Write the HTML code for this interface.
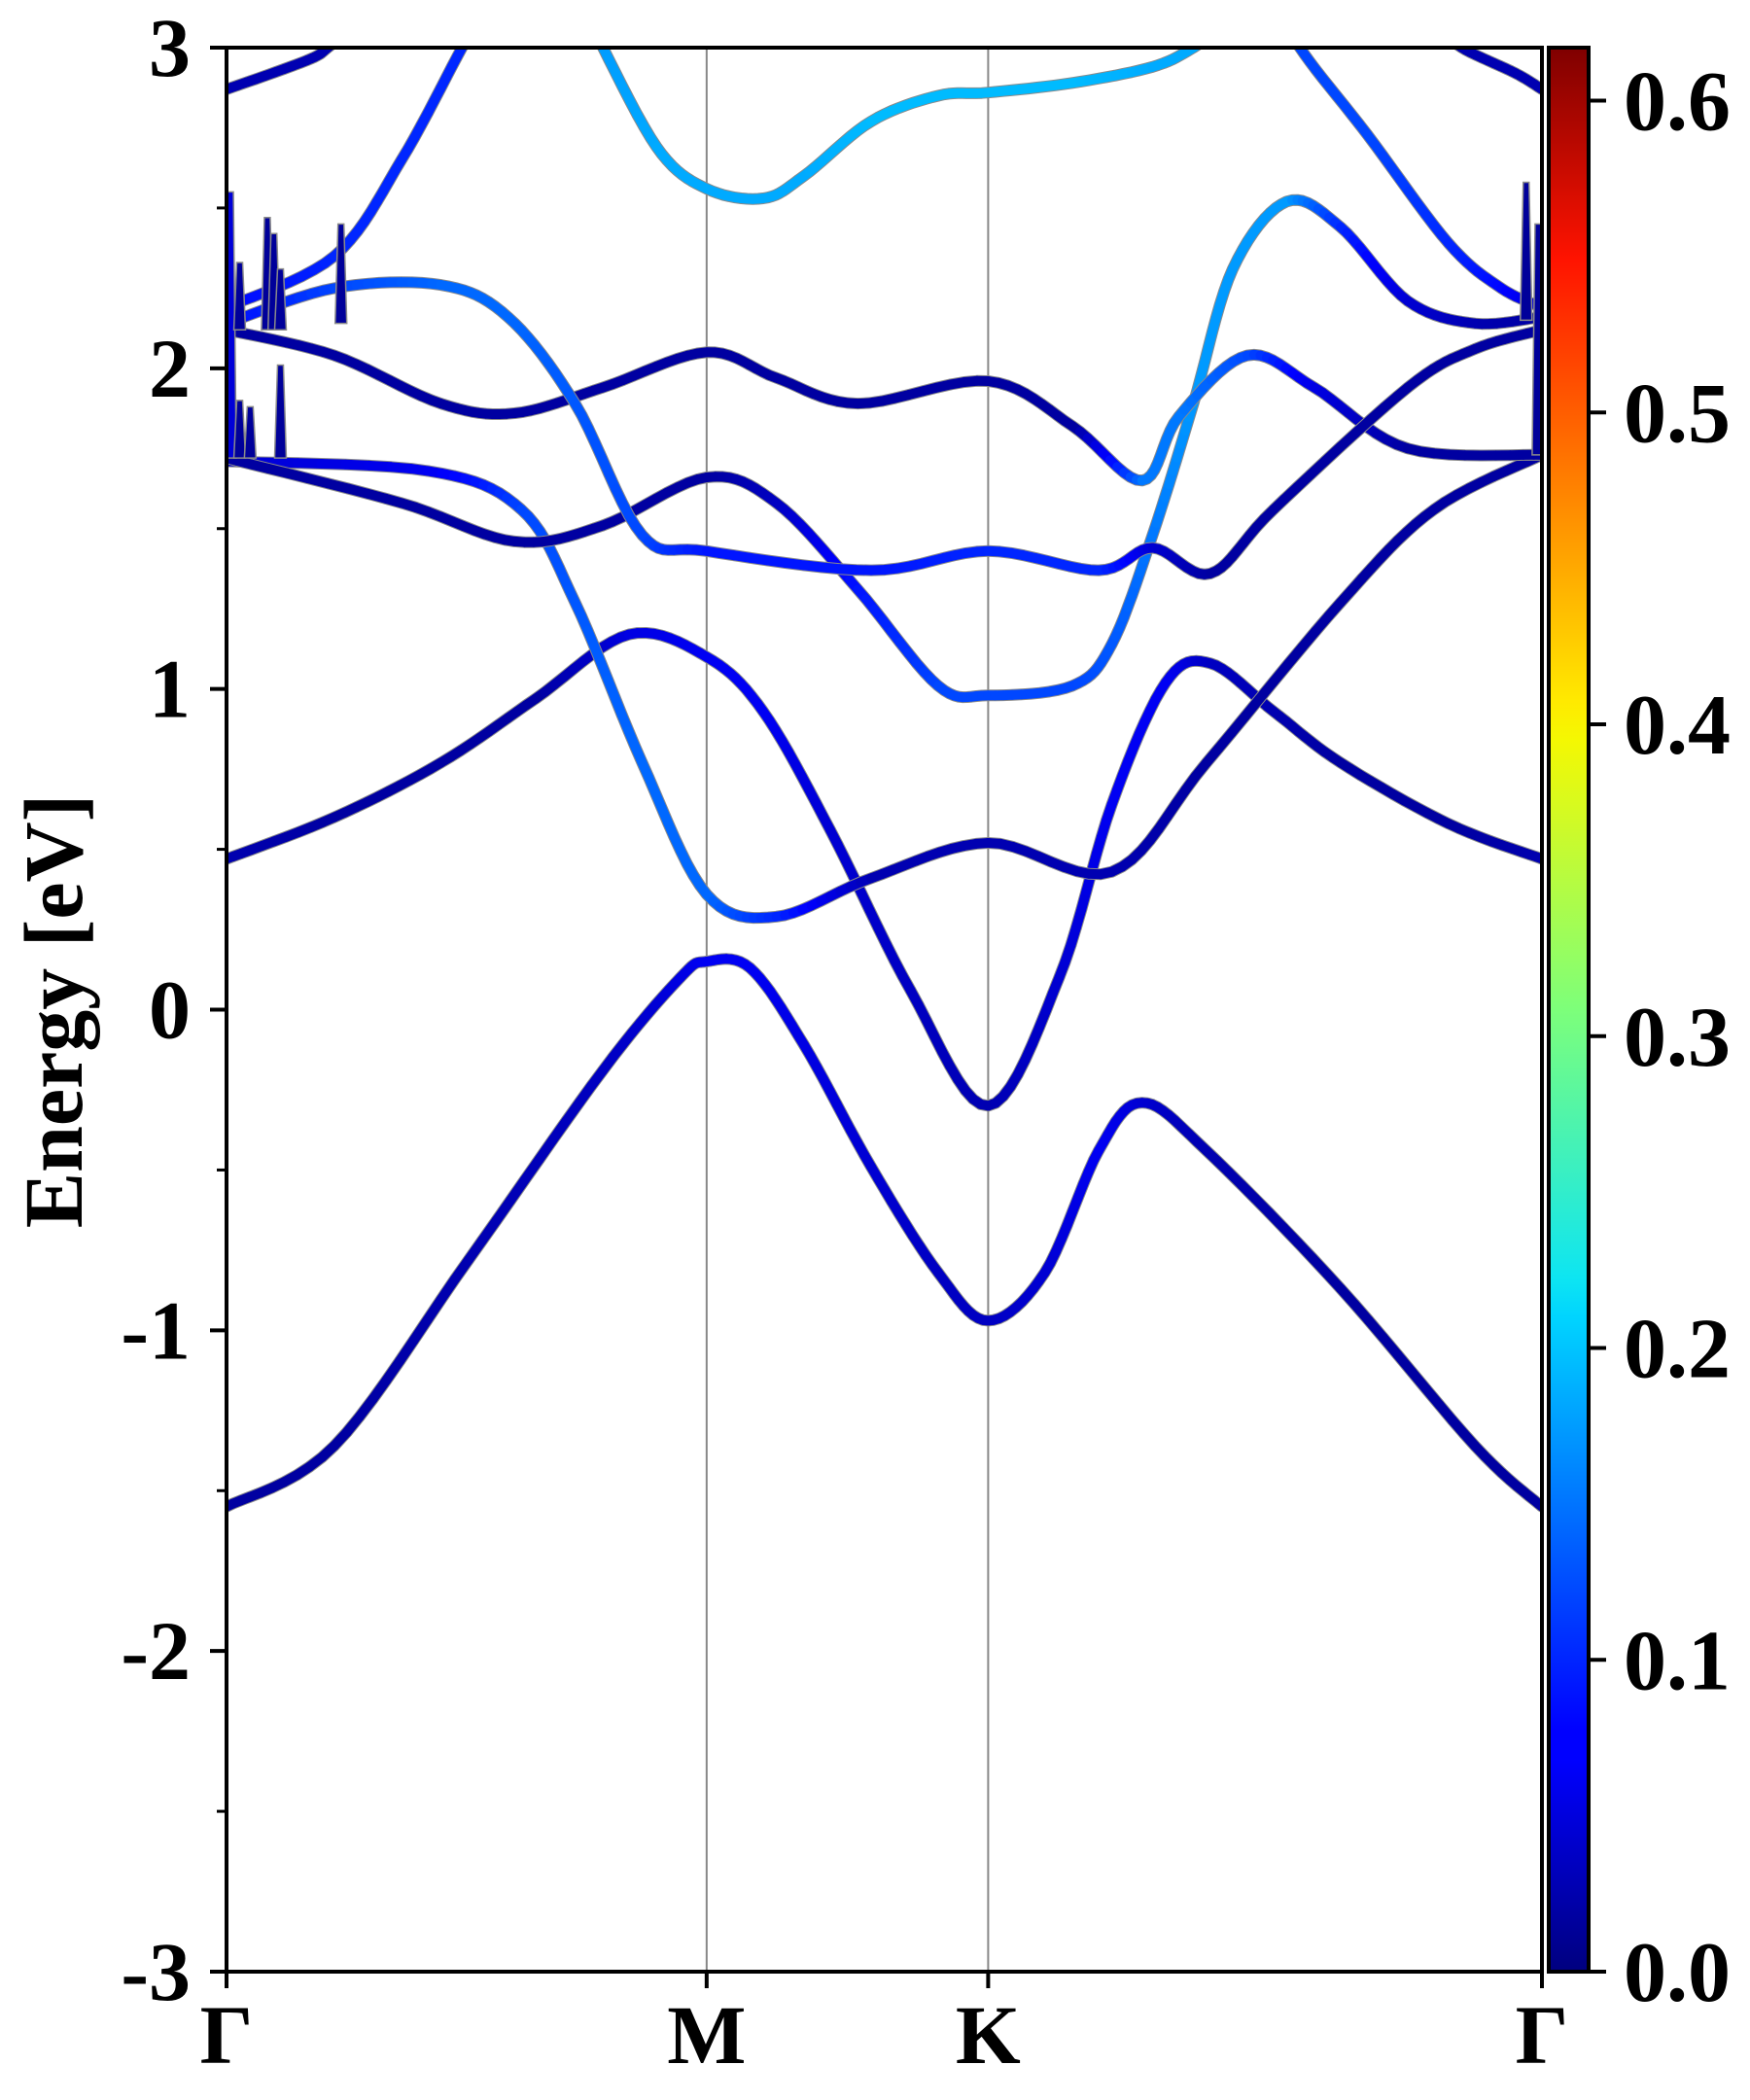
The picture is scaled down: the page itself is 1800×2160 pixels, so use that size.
<!DOCTYPE html>
<html><head><meta charset="utf-8">
<style>
html,body{margin:0;padding:0;background:#fff;}
svg{display:block;font-family:"Liberation Serif",serif;font-weight:bold;}
</style></head>
<body>
<svg id="chart" width="1800" height="2160" viewBox="0 0 1800 2160" xmlns="http://www.w3.org/2000/svg">
<defs>
<clipPath id="plotclip"><rect x="233" y="49" width="1353" height="1979"/></clipPath>
<linearGradient id="jet" x1="0" y1="1" x2="0" y2="0">
<stop offset="0" stop-color="#00007f"/><stop offset="0.11" stop-color="#0000ff"/>
<stop offset="0.125" stop-color="#0000ff"/><stop offset="0.34" stop-color="#00d4ff"/>
<stop offset="0.36" stop-color="#0de5f2"/><stop offset="0.5" stop-color="#7dff7a"/>
<stop offset="0.64" stop-color="#f4f802"/><stop offset="0.66" stop-color="#ffea00"/>
<stop offset="0.89" stop-color="#ff1300"/><stop offset="1" stop-color="#7f0000"/>
</linearGradient>
</defs>
<g id="bands" clip-path="url(#plotclip)"></g>
<g id="axes"></g>
</svg>
<script>
// ---- data ----
const yTicks=[-3,-2,-1,0,1,2,3];
const yTickLabels=["-3","-2","-1","0","1","2","3"];
const kPoints=[0,0.365,0.579,1];
const kLabels=["Γ","M","K","Γ"];
const cbTicks=[0,0.1,0.2,0.3,0.4,0.5,0.6];
const cbTickLabels=["0.0","0.1","0.2","0.3","0.4","0.5","0.6"];
const cbMax=0.617;
const bandA_k=[0,.082,.184,.286,.345,.365,.398,.439,.490,.541,.579,.622,.663,.696,.745,.847,.949,1];
const bandA_E=[-1.55,-1.36,-0.78,-0.19,0.10,0.15,0.13,-0.11,-0.49,-0.82,-0.97,-0.82,-0.44,-0.29,-0.44,-0.87,-1.36,-1.55];
const bandA_w=[.02,.02,.03,.04,.06,.07,.07,.06,.05,.04,.04,.05,.07,.05,.03,.02,.02,.02];
const bandB_k=[0,.082,.163,.235,.306,.365,.408,.459,.520,.579,.633,.673,.714,.748,.796,.847,.929,1];
const bandB_E=[.47,.60,.77,.97,1.17,1.10,.93,.56,.06,-.30,.10,.64,1.02,1.08,.93,.77,.58,.47];
const bandB_w=[.03,.02,.02,.02,.06,.07,.07,.05,.04,.03,.05,.07,.07,.04,.03,.02,.02,.03];
const bandC_k=[0,.153,.224,.265,.316,.365,.418,.490,.579,.673,.745,.847,.918,1];
const bandC_E=[1.71,1.68,1.56,1.27,.77,.36,.29,.41,.52,.43,.77,1.27,1.56,1.73];
const bandC_w=[.05,.07,.12,.13,.14,.14,.10,.03,.03,.03,.02,.02,.02,.02];
const bandD_k=[0,.133,.219,.286,.365,.418,.480,.541,.579,.643,.673,.704,.735,.765,.806,.847,.898,.949,1];
const bandD_E=[1.72,1.58,1.46,1.51,1.66,1.58,1.31,1.01,.98,1.01,1.14,1.48,1.89,2.31,2.52,2.44,2.21,2.14,2.16];
const bandD_w=[.02,.02,.02,.02,.02,.04,.09,.12,.12,.12,.13,.15,.17,.17,.17,.10,.05,.03,.02];
const bandE_k=[0,.082,.163,.219,.286,.365,.418,.480,.579,.643,.696,.724,.776,.827,.898,1];
const bandE_E=[2.12,2.04,1.89,1.86,1.94,2.05,1.97,1.89,1.96,1.82,1.65,1.85,2.04,1.94,1.75,1.73];
const bandE_w=[.02,.02,.02,.02,.02,.02,.02,.02,.02,.02,.15,.15,.12,.06,.02,.02];
const bandF_k=[0,.082,.163,.214,.265,.316,.365,.490,.579,.663,.704,.748,.796,.898,.949,1];
const bandF_E=[2.14,2.25,2.26,2.16,1.89,1.48,1.43,1.37,1.43,1.37,1.44,1.36,1.56,1.94,2.06,2.12];
const bandF_w=[.08,.12,.14,.14,.13,.12,.09,.09,.10,.10,.05,.02,.02,.02,.02,.02];
const bandG1_k=[0,.082,.133,.179,.20];
const bandG1_E=[2.19,2.35,2.65,3.0,3.15];
const bandG1_w=[.08,.10,.10,.10,.10];
const bandG2_k=[.80,.816,.867,.929,.969,1];
const bandG2_E=[3.15,3.0,2.73,2.39,2.25,2.19];
const bandG2_w=[.12,.12,.12,.10,.08,.05];
const bandH_k=[.28,.327,.365,.408,.439,.490,.541,.579,.643,.704,.735,.75];
const bandH_E=[3.05,2.69,2.56,2.53,2.60,2.77,2.85,2.86,2.89,2.94,3.0,3.05];
const bandH_w=[.17,.18,.18,.18,.18,.19,.19,.19,.19,.18,.18,.18];
const bandI1_k=[0,.061,.077,.09];
const bandI1_E=[2.87,2.96,3.0,3.05];
const bandI1_w=[.03,.03,.03,.03];
const bandI2_k=[.93,.939,.98,1];
const bandI2_E=[3.05,3.0,2.92,2.87];
const bandI2_w=[.03,.03,.03,.03];
const spike_k=[.003,.010,.031,.036,.041,.087,.010,.018,.041,.988,.997];
const spike_top=[2.55,2.33,2.47,2.42,2.31,2.45,1.90,1.88,2.01,2.58,2.45];
const spike_base=[1.72,2.12,2.12,2.12,2.12,2.14,1.72,1.72,1.72,2.15,1.73];

// ---- axes ----
const L=233,R=1586,T=49,B=2028;
const X=k=>L+k*(R-L);
const Y=e=>T+(3-e)/6*(B-T);
const NS="http://www.w3.org/2000/svg";
function mk(tag,attrs,parent){const el=document.createElementNS(NS,tag);for(const a in attrs)el.setAttribute(a,attrs[a]);parent.appendChild(el);return el;}
function jet(v){const t=Math.max(0,Math.min(1,v/cbMax));
 const f=x=>Math.max(0,Math.min(1,x));
 const r=f(1.5-Math.abs(4*t-3)),g=f(1.5-Math.abs(4*t-2)),b=f(1.5-Math.abs(4*t-1));
 return `rgb(${Math.round(r*255)},${Math.round(g*255)},${Math.round(b*255)})`;}
const bandsG=document.getElementById('bands');
const axesG=document.getElementById('axes');

[1,2].forEach(i=>{const ln=mk('line',{x1:X(kPoints[i]),x2:X(kPoints[i]),y1:T,y2:B,stroke:'#888','stroke-width':2},bandsG);

});

function cr(p0,p1,p2,p3,t){const t2=t*t,t3=t2*t;return 0.5*((2*p1)+(-p0+p2)*t+(2*p0-5*p1+4*p2-p3)*t2+(-p0+3*p1-3*p2+p3)*t3);}
function drawBand(name,ks,es,ws){
 const pts=[];const n=ks.length;
 for(let i=0;i<n-1;i++){const i0=Math.max(0,i-1),i3=Math.min(n-1,i+2);
  for(let s=0;s<10;s++){const t=s/10;
   pts.push([X(cr(ks[i0],ks[i],ks[i+1],ks[i3],t)),Y(cr(es[i0],es[i],es[i+1],es[i3],t)),ws[i]+(ws[i+1]-ws[i])*t]);}}
 pts.push([X(ks[n-1]),Y(es[n-1]),ws[n-1]]);
 const g=mk('g',{},bandsG);
 
 
 mk('polyline',{points:pts.map(p=>p[0].toFixed(1)+','+p[1].toFixed(1)).join(' '),fill:'none',stroke:'#8a8a8a','stroke-width':12,'stroke-linejoin':'round','stroke-linecap':'round'},g);
 for(let i=0;i<pts.length-1;i++){
  mk('line',{x1:pts[i][0].toFixed(1),y1:pts[i][1].toFixed(1),x2:pts[i+1][0].toFixed(1),y2:pts[i+1][1].toFixed(1),stroke:jet(pts[i][2]),'stroke-width':10,'stroke-linecap':'round'},g);}
}
drawBand('band-a',bandA_k,bandA_E,bandA_w);
drawBand('band-b',bandB_k,bandB_E,bandB_w);
drawBand('band-c',bandC_k,bandC_E,bandC_w);
drawBand('band-d',bandD_k,bandD_E,bandD_w);
drawBand('band-e',bandE_k,bandE_E,bandE_w);
drawBand('band-f',bandF_k,bandF_E,bandF_w);
drawBand('band-g-left',bandG1_k,bandG1_E,bandG1_w);
drawBand('band-g-right',bandG2_k,bandG2_E,bandG2_w);
drawBand('band-h',bandH_k,bandH_E,bandH_w);
drawBand('band-i-left',bandI1_k,bandI1_E,bandI1_w);
drawBand('band-i-right',bandI2_k,bandI2_E,bandI2_w);
spike_k.forEach((k,i)=>{const x=X(k);
 const p=mk('polygon',{points:`${x-6},${Y(spike_base[i])} ${x-3},${Y(spike_top[i])} ${x+3},${Y(spike_top[i])} ${x+6},${Y(spike_base[i])}`,fill:i===0?'#0000d8':'#00009a',stroke:'#8a8a8a','stroke-width':1.5},bandsG);
 
 });

const fr=mk('rect',{x:L,y:T,width:R-L,height:B-T,fill:'none',stroke:'#000','stroke-width':4},axesG);


yTicks.forEach((v,i)=>{
 const tk=mk('line',{x1:L-17,x2:L,y1:Y(v),y2:Y(v),stroke:'#000','stroke-width':4},axesG);
 
 
 const tx=mk('text',{x:196,y:Y(v)+29,'text-anchor':'end','font-size':86},axesG);
 tx.textContent=yTickLabels[i];
 
 
 if(i<yTicks.length-1){const m=v+0.5;
  const mt=mk('line',{x1:L-10,x2:L,y1:Y(m),y2:Y(m),stroke:'#000','stroke-width':3},axesG);
  
  }
});
kPoints.forEach((k,i)=>{
 const tk=mk('line',{x1:X(k),x2:X(k),y1:B,y2:B+17,stroke:'#000','stroke-width':4},axesG);
 
 
 const tx=mk('text',{x:X(k),y:2122,'text-anchor':'middle','font-size':86},axesG);
 tx.textContent=kLabels[i];
 
 
});
const yl=mk('text',{x:0,y:0,'text-anchor':'middle','font-size':86,transform:'translate(84,1040) rotate(-90)'},axesG);
yl.textContent='Energy [eV]';



const CX=1593,CW=41;
const CY=v=>B-v/cbMax*(B-T);
const cb=mk('rect',{x:CX,y:T,width:CW,height:B-T,fill:'url(#jet)',stroke:'#000','stroke-width':4},axesG);


cbTicks.forEach((v,i)=>{
 const tk=mk('line',{x1:CX+CW,x2:CX+CW+18,y1:CY(v),y2:CY(v),stroke:'#000','stroke-width':4},axesG);
 
 
 const tx=mk('text',{x:1670,y:CY(v)+30,'font-size':88},axesG);
 tx.textContent=cbTickLabels[i];
 
 
});
</script>
</body></html>
